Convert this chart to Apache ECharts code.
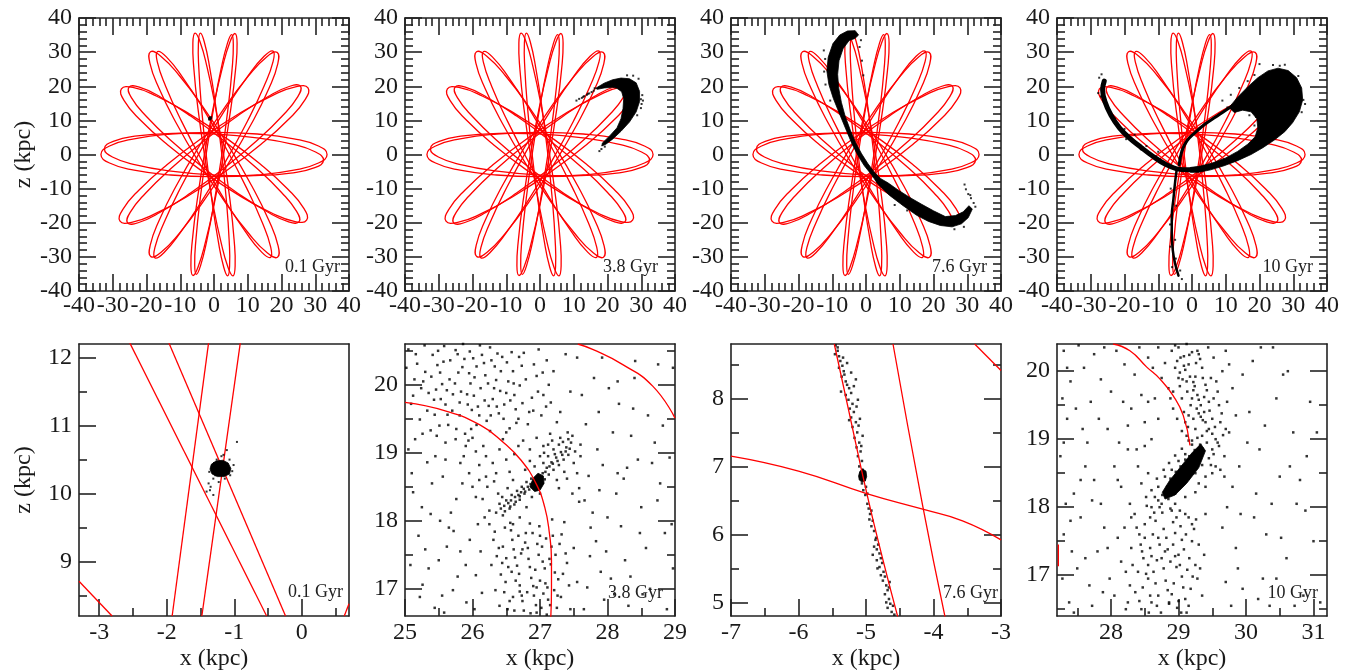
<!DOCTYPE html>
<html><head><meta charset="utf-8">
<script src="https://cdn.jsdelivr.net/npm/echarts@6/dist/echarts.min.js"></script>
<style>html,body{margin:0;padding:0;background:#fff}#c{width:1354px;height:672px}</style>
</head><body><div id="c"></div>
<script>
// ---------- tick labels ----------
const topMajorTicks = [-40,-30,-20,-10,0,10,20,30,40];
const topMinorTicks = [-38,-36,-34,-32,-28,-26,-24,-22,-18,-16,-14,-12,-8,-6,-4,-2,2,4,6,8,12,14,16,18,22,24,26,28,32,34,36,38];
const p5XMajor = [-3,-2,-1,0], p5XMinor = [-2.5,-1.5,-0.5,0.5];
const p5YMajor = [9,10,11,12], p5YMinor = [8.5,9.5,10.5,11.5];
const p6XMajor = [25,26,27,28,29], p6XMinor = [25.5,26.5,27.5,28.5];
const p6YMajor = [17,18,19,20], p6YMinor = [17.5,18.5,19.5,20.5];
const p7XMajor = [-7,-6,-5,-4,-3], p7XMinor = [-6.5,-5.5,-4.5,-3.5];
const p7YMajor = [5,6,7,8], p7YMinor = [5.5,6.5,7.5,8.5];
const p8XMajor = [28,29,30,31], p8XMinor = [27.5,28.5,29.5,30.5];
const p8YMajor = [17,18,19,20], p8YMinor = [16.5,17.5,18.5,19.5];
const ageLabels = ['0.1 Gyr','3.8 Gyr','7.6 Gyr','10 Gyr'];

// ---------- orbit (red rosette), read loop by loop (closed loops) ----------
const orbitLoopA = [[33.5,0],[30.95,2.49],[23.68,4.6],[12.83,6.01],[0,6.5],[-12.83,6.01],[-23.68,4.6],[-30.95,2.49],[-33.5,0],[-30.95,-2.49],[-23.68,-4.6],[-12.83,-6.01],[0,-6.5],[12.83,-6.01],[23.68,-4.6],[30.95,-2.49]];
const orbitLoopB = [[32.45,-1.7],[30.1,0.72],[23.16,3.04],[12.72,4.88],[0.31,5.99],[-12.14,6.18],[-22.72,5.44],[-29.86,3.86],[-32.45,1.7],[-30.1,-0.72],[-23.16,-3.04],[-12.72,-4.88],[-0.31,-5.99],[12.14,-6.18],[22.72,-5.44],[29.86,-3.86]];
const orbitLoopC = [[27.85,19.5],[24.41,19.9],[17.26,17.27],[7.49,12.02],[-3.44,4.92],[-13.85,-2.92],[-22.12,-10.31],[-27.05,-16.14],[-27.85,-19.5],[-24.41,-19.9],[-17.26,-17.27],[-7.49,-12.02],[3.44,-4.92],[13.85,2.92],[22.12,10.31],[27.05,16.14]];
const orbitLoopD = [[25.61,20.01],[22.48,20],[15.93,16.94],[6.96,11.3],[-3.08,3.94],[-12.66,-4.02],[-20.29,-11.36],[-24.84,-16.98],[-25.61,-20.01],[-22.48,-20],[-15.93,-16.94],[-6.96,-11.3],[3.08,-3.94],[12.66,4.02],[20.29,11.36],[24.84,16.98]];
const orbitLoopE = [[-27.44,19.22],[-26.67,15.88],[-21.83,10.11],[-13.69,2.81],[-3.44,-4.92],[7.33,-11.91],[16.97,-17.07],[24.03,-19.64],[27.44,-19.22],[26.67,-15.88],[21.83,-10.11],[13.69,-2.81],[3.44,4.92],[-7.33,11.91],[-16.97,17.07],[-24.03,19.64]];
const orbitLoopF = [[-25.22,19.7],[-24.48,16.69],[-20.01,11.14],[-12.51,3.91],[-3.08,-3.94],[6.81,-11.19],[15.65,-16.72],[22.12,-19.71],[25.22,-19.7],[24.48,-16.69],[20.01,-11.14],[12.51,-3.91],[3.08,3.94],[-6.81,11.19],[-15.65,16.72],[-22.12,19.71]];
const orbitLoopG = [[18.71,29.93],[15.67,28.67],[10.23,23.03],[3.25,13.91],[-4.24,2.65],[-11.09,-9.01],[-16.23,-19.29],[-18.91,-26.65],[-18.71,-29.93],[-15.67,-28.67],[-10.23,-23.03],[-3.25,-13.91],[4.24,-2.65],[11.09,9.01],[16.23,19.29],[18.91,26.65]];
const orbitLoopH = [[17.5,30.31],[14.84,28.78],[9.92,22.84],[3.5,13.46],[-3.46,2],[-9.9,-9.76],[-14.82,-20.02],[-17.5,-27.24],[-17.5,-30.31],[-14.84,-28.78],[-9.92,-22.84],[-3.5,-13.46],[3.46,-2],[9.9,9.76],[14.82,20.02],[17.5,27.24]];
const orbitLoopI = [[-18.81,30.1],[-19,26.8],[-16.3,19.41],[-11.12,9.08],[-4.24,-2.65],[3.28,-13.98],[10.3,-23.15],[15.76,-28.82],[18.81,-30.1],[19,-26.8],[16.3,-19.41],[11.12,-9.08],[4.24,2.65],[-3.28,13.98],[-10.3,23.15],[-15.76,28.82]];
const orbitLoopJ = [[-16.73,30.17],[-16.8,27.14],[-14.3,19.96],[-9.64,9.77],[-3.5,-1.94],[3.18,-13.35],[9.36,-22.7],[14.12,-28.62],[16.73,-30.17],[16.8,-27.14],[14.3,-19.96],[9.64,-9.77],[3.5,1.94],[-3.18,13.35],[-9.36,22.7],[-14.12,28.62]];
const orbitLoopK = [[6.25,35.45],[4.72,32.95],[2.47,25.4],[-0.16,14.03],[-2.76,0.49],[-4.94,-13.13],[-6.37,-24.72],[-6.84,-32.57],[-6.25,-35.45],[-4.72,-32.95],[-2.47,-25.4],[0.16,-14.03],[2.76,-0.49],[4.94,13.13],[6.37,24.72],[6.84,32.57]];
const orbitLoopL = [[5.25,35.11],[3.98,32.57],[2.1,25.06],[-0.09,13.76],[-2.28,0.34],[-4.11,-13.14],[-5.32,-24.58],[-5.72,-32.31],[-5.25,-35.11],[-3.98,-32.57],[-2.1,-25.06],[0.09,-13.76],[2.28,-0.34],[4.11,13.14],[5.32,24.58],[5.72,32.31]];
const orbitLoopM = [[-5.63,35.56],[-6.26,32.69],[-5.94,24.83],[-4.72,13.22],[-2.77,-0.44],[-0.4,-14.03],[2.02,-25.45],[4.14,-33.03],[5.63,-35.56],[6.26,-32.69],[5.94,-24.83],[4.72,-13.22],[2.77,0.44],[0.4,14.03],[-2.02,25.45],[-4.14,33.03]];
const orbitLoopN = [[-4.05,35.57],[-4.62,32.77],[-4.48,24.97],[-3.66,13.38],[-2.29,-0.26],[-0.56,-13.86],[1.25,-25.33],[2.87,-32.97],[4.05,-35.57],[4.62,-32.77],[4.48,-24.97],[3.66,-13.38],[2.29,0.26],[0.56,13.86],[-1.25,25.33],[-2.87,32.97]];
const orbitLoops = [orbitLoopA,orbitLoopB,orbitLoopC,orbitLoopD,orbitLoopE,orbitLoopF,orbitLoopG,orbitLoopH,orbitLoopI,orbitLoopJ,orbitLoopK,orbitLoopL,orbitLoopM,orbitLoopN];

// ---------- streams, top row ----------
const stream01Dots = [[-1.2,10.6],[-1.0,10.8],[-1.3,10.4]];
const stream38Band = [[16.5,19.4],[19,20.9],[21.5,21.9],[24,22.4],[26.5,22.2],[28.5,21],[29.5,18.5],[29.5,15.5],[28.5,12.5],[26.5,9.5],[24,6.8],[21.5,4.5],[19.5,3],[18.3,2.5],[18.5,3.4],[20.5,5.3],[22.8,7.8],[24,10.5],[24.6,13.5],[24.8,16.3],[24.2,18.4],[22.8,19.4],[21.5,19.7],[19,19.5],[17,19.1]];
const stream38Dots = [[10.8,15.8],[11.6,16.3],[12.4,16.6],[13.1,17.1],[13.9,17.5],[14.6,17.9],[15.3,18.3],[15.9,18.7],[12.8,16.9],[14.2,17.8],[16.2,19.4],[29.9,16.2],[30.1,14.8],[29.9,13.6],[30.3,17.4],[29.2,22.2],[27.6,23.1],[25.8,23.2],[19.2,2.3],[18.2,1.6],[17.6,1.0],[30.5,15.8],[28.8,11.5]];
const stream76Band = [[-3.2,36.3],[-5.5,36.2],[-7.8,35],[-9.8,32.5],[-11.2,28.5],[-11.6,24.5],[-11,20.5],[-9.7,16.5],[-8,12.3],[-6,7.5],[-4,2.8],[-2.2,-0.6],[-0.5,-3.3],[1.7,-6],[3.6,-8.8],[7,-12],[11,-15],[15,-17.8],[18.5,-19.6],[22,-20.8],[25.5,-21.2],[28.3,-20.3],[30.3,-18.5],[31.5,-16],[30.5,-15],[28.8,-16.8],[26.5,-17.9],[23.5,-18.2],[20,-16.5],[16.5,-14.6],[13,-12.6],[9.5,-10.4],[6.5,-8.3],[4.4,-7.1],[2.4,-5.1],[0.5,-2.6],[-1.3,0.2],[-3,3.3],[-4.6,7],[-6.2,11.3],[-7.3,15.3],[-8.1,19.5],[-8.4,23.5],[-8,27.5],[-6.8,31],[-5,33.4],[-3.3,34],[-2.2,35]];
const stream76Dots = [[29.2,-8.8],[29.6,-10.2],[30.3,-11.6],[31.1,-12.8],[31.9,-14.2],[32.4,-15.3],[30.9,-11.9],[-12.1,28],[-12.4,24.3],[-12,20.5],[-10.6,15.8],[-1.9,31.5],[-1.2,27.5],[-0.8,23.2],[8.5,-14.8],[12.2,-16.4],[26.2,-21.9],[29,-21.2],[-1.5,33.5],[-12.5,30.5]];
const stream10Blob = [[11,13.8],[13.5,16.8],[16.5,19.8],[19.5,22.5],[22.5,24.5],[25.5,25.3],[28.5,24.6],[31,22.5],[32.5,19.5],[32.8,16],[31.8,12.5],[29.8,9.3],[27.5,6.7],[24.5,4.3],[21,2],[17.5,0],[13.5,-1.8],[9.5,-3.3],[5.5,-4.5],[2,-5.2],[-0.5,-5.2],[-0.5,-3.8],[2.5,-3.4],[6,-2.5],[10,-1],[13.5,0.9],[16.5,3],[18.7,5.2],[19.5,7.8],[19.2,10.5],[17.5,12.5],[15,13],[12.5,12.3]];
const stream10UpperArm = [[-3.8,-3],[-3,1],[-1.5,4],[1,6.5],[4,9],[7,11],[10,13],[12.5,14.5]];
const stream10LeftArm = [[2,-4.4],[-1,-4.5],[-4.5,-4.2],[-8,-2.8],[-11.5,-0.6],[-15,2],[-18.5,4.8],[-21.5,7.8],[-24,11.5],[-25.8,15.5],[-26.5,19],[-26,21.5]];
const stream10Tail = [[-4.5,-4.2],[-5,-8],[-5.5,-13],[-6,-18],[-6,-23],[-5.7,-28],[-5,-32],[-4,-35.5]];
const stream10Dots = [[-27.5,22.5],[-26.8,23.5],[-27.8,18],[-24.5,13],[-22.8,10.5],[-20,7.5],[-17,5.8],[-13.5,2.5],[-10,0.8],[-25.3,14],[-27,17],[-19.5,4.5],[-6.3,-10],[-4.7,-15],[-6.5,-20.5],[-5,-25],[-6.4,-27],[-4.8,-30.5],[-3.5,-34],[-3,-36.5],[-5.9,-33],[20,26.5],[24,26.2],[26,26],[33,16],[33.5,14.8],[32.5,12.4],[14,19.5],[16.5,21.5],[18.5,23.3],[27.5,26.3],[31.5,23],[10.5,13.8],[9,15.8],[11.5,17.5],[17,11.5],[19,11],[20.5,12.7],[24.5,18.5],[22.5,12.8],[18.5,8.5]];

// ---------- zoomed panels, bottom row ----------
const zoom01Lines = [
  [[-2.55,12.22],[-0.52,8.2]],
  [[-1.97,12.22],[-0.24,8.2]],
  [[-1.38,12.22],[-1.92,8.2]],
  [[-0.91,12.22],[-1.48,8.2]],
  [[-3.3,8.71],[-2.81,8.2]],
  [[0.63,8.2],[0.7,8.38]]
];
const zoom01Core = [[-1.36,10.36],[-1.34,10.43],[-1.27,10.48],[-1.17,10.49],[-1.09,10.45],[-1.05,10.37],[-1.07,10.29],[-1.15,10.25],[-1.25,10.25],[-1.33,10.29]];
const zoom01Dots = [[-0.96,10.76],[-1.11,10.64],[-1.16,10.57],[-1.31,10.22],[-1.38,10.15],[-1.36,10.05],[-1.31,9.98],[-1.41,10.03],[-1.06,10.27],[-1.01,10.42],[-1.28,10.27],[-1.23,10.17],[-1.35,10.1],[-1.19,10.55],[-1.07,10.5],[-1.3,10.45],[-1.14,10.22],[-1.03,10.33],[-1.37,10.32],[-1.26,10.5]];

const zoom38Lines = [
  [[25,19.74],[25.62,19.61],[26.11,19.41],[26.45,19.16],[26.72,18.89],[26.94,18.55],[27.07,18.2],[27.14,17.81],[27.17,17.42],[27.17,17.0],[27.16,16.58]],
  [[27.56,20.6],[27.78,20.52],[28.22,20.3],[28.67,19.98],[29,19.51]]
];
const zoom38Core = [[26.85,18.5],[26.9,18.63],[26.97,18.7],[27.05,18.66],[27.06,18.55],[27.0,18.45],[26.92,18.43]];
const zoom38Dots = [[25.05,20.52],[25.18,20.31],[25.27,20.05],[25.12,19.84],[25.33,19.62],[25.41,20.44],[25.52,20.18],[25.46,19.93],[25.6,19.71],[25.58,20.57],[25.67,20.36],[25.74,20.02],[25.81,19.55],[25.85,20.26],[25.92,19.86],[25.96,20.49],[26.03,20.11],[26.08,19.68],[26.12,19.95],[26.17,20.32],[26.21,19.47],[26.26,20.55],[26.3,19.79],[26.35,20.07],[26.39,19.58],[26.44,20.41],[26.5,19.88],[26.55,19.36],[26.6,20.2],[26.64,19.64],[26.7,19.99],[26.76,20.47],[26.82,19.42],[26.88,19.81],[26.95,20.13],[27.02,19.55],[27.1,20.36],[27.16,19.74],[25.22,19.49],[25.38,19.33],[25.64,19.41],[25.89,19.28],[26.01,20.39],[25.78,20.45],[25.55,20.01],[25.99,19.63],[26.23,20.02],[26.47,19.71],[26.68,19.5],[26.33,20.27],[25.71,19.86],[26.11,20.58],[25.43,19.78],[25.95,20.17],[26.58,20.48],[26.9,19.62],[26.41,19.91],[25.3,20.19],[26.18,19.77],[25.86,20.6],[26.62,19.85],[25.48,20.29],[26.06,19.41],[26.73,20.28],[25.63,19.56],[26.27,19.55],[26.53,20.05],[25.14,20.08],[25.81,19.74],[26.37,20.46],
[26.35,18.12],[26.4,18.25],[26.45,18.08],[26.5,18.3],[26.55,18.18],[26.58,18.38],[26.62,18.24],[26.66,18.44],[26.7,18.31],[26.73,18.5],[26.77,18.4],[26.8,18.57],[26.84,18.46],[26.87,18.62],[26.9,18.52],[26.93,18.58],[26.96,18.49],[26.98,18.64],[27.01,18.56],[27.04,18.7],[27.07,18.61],[27.1,18.78],[27.13,18.68],[27.17,18.86],[27.2,18.75],[27.24,18.93],[27.28,18.82],[27.31,19.01],[27.35,18.9],[27.39,19.08],[27.42,18.97],[27.46,19.15],[27.2,19.05],[27.12,18.95],[27.3,19.22],[27.41,19.3],[27.5,18.85],[27.05,19.1],[27.25,18.6],[27.36,18.72],[26.92,18.8],[27.0,18.95],[26.85,19.05],[27.15,19.28],[27.52,19.02],[26.6,18.6],[26.52,18.48],[26.44,18.35],[26.7,18.05],[26.6,17.95],[26.48,17.9],[26.38,18.4],[26.88,18.35],[27.0,18.4],[26.8,18.2],
[26.25,17.95],[26.31,17.72],[26.36,17.48],[26.42,17.21],[26.47,16.95],[26.52,16.7],[26.57,17.86],[26.61,17.58],[26.66,17.34],[26.7,17.05],[26.74,16.82],[26.78,17.68],[26.83,17.44],[26.87,17.16],[26.91,16.9],[26.95,16.65],[26.99,17.92],[27.03,17.62],[27.07,17.3],[27.11,17.02],[27.15,16.76],[27.19,17.78],[27.23,17.5],[27.27,17.14],[27.31,16.88],[27.36,17.98],[27.4,17.38],[27.45,16.7],[27.5,17.6],[27.55,17.1],[26.28,17.35],[26.34,16.98],[26.45,17.62],[26.53,17.32],[26.6,16.88],[26.68,17.78],[26.72,17.52],[26.81,16.95],[26.89,17.82],[26.93,17.28],[27.0,17.12],[27.05,16.93],[27.09,17.74],[27.14,17.44],[27.21,16.98],[27.29,17.66],[27.34,17.22],[26.64,17.12],[26.76,16.68],[26.98,17.5],[26.56,17.97],[26.85,17.96],[27.18,18.02],[26.4,16.75],[26.95,17.02],[27.1,16.62],[26.7,16.96],[26.5,17.45],[26.82,17.6],[27.25,16.72],
[25.05,19.05],[25.12,18.42],[25.2,17.78],[25.26,17.06],[25.33,18.86],[25.38,18.1],[25.44,16.72],[25.5,17.42],[25.56,18.65],[25.6,19.15],[25.65,17.9],[25.71,16.98],[25.76,18.32],[25.82,17.55],[25.87,18.95],[25.91,16.8],[25.96,17.72],[26.0,18.5],[26.05,17.2],[26.1,18.82],[26.14,16.94],[26.18,18.05],[25.22,16.88],[25.47,19.25],[25.68,18.12],[25.94,19.18],[26.08,17.95],[25.3,17.58],[25.58,16.65],[25.85,18.55],[26.16,19.1],[25.08,17.35],[25.4,18.55],[25.78,17.18],[26.03,16.7],[25.15,19.2],[25.52,18.0],[25.98,19.35],[26.2,18.65],[25.62,17.62],
[27.55,20.4],[27.62,19.85],[27.68,19.42],[27.72,18.66],[27.78,18.12],[27.83,17.7],[27.9,17.25],[27.95,16.84],[28.02,19.95],[28.08,19.3],[28.13,18.4],[28.2,17.92],[28.26,17.42],[28.31,16.75],[28.38,19.65],[28.45,18.9],[28.5,18.2],[28.57,17.6],[28.63,17.0],[28.7,19.15],[28.78,18.55],[28.85,17.82],[28.92,18.93],[28.97,17.3],[27.6,19.12],[27.66,18.3],[27.74,17.48],[27.8,20.1],[27.87,19.6],[27.93,18.82],[28.0,18.05],[28.1,16.92],[28.17,19.72],[28.24,18.62],[28.34,17.18],[28.41,20.35],[28.6,19.55],[28.74,18.3],[28.88,16.7],[27.58,18.48],[27.7,17.02],[27.98,17.55],[28.29,18.78],[28.52,16.92],[27.85,19.05],
[26.98,20.52],[27.2,20.2],[27.3,19.6],[27.45,19.9],[27.05,19.85],[27.38,20.45],[27.25,19.45],[25.6,18.9],[25.9,19.1],[26.2,18.95],[26.35,18.7],[26.45,19.2],[26.1,18.6],[25.75,19.2]];
const zoom38DotsMore = [[25.02,20.25],[25.09,19.72],[25.16,20.45],[25.24,19.95],[25.29,20.58],[25.35,19.88],[25.39,20.12],[25.44,19.56],[25.49,20.5],[25.53,19.79],[25.57,20.34],[25.62,19.92],[25.66,20.08],[25.7,19.62],[25.75,20.51],[25.79,20.18],[25.83,19.9],[25.88,20.38],[25.93,19.71],[25.97,20.02],[26.02,19.84],[26.06,20.27],[26.1,19.55],[26.14,20.44],[26.19,20.14],[26.24,19.69],[26.28,20.36],[26.32,19.95],[26.36,19.68],[26.42,20.2],[26.46,19.5],[26.51,20.33],[26.56,19.77],[26.61,20.02],[26.65,19.44],[26.69,20.41],[26.74,19.73],[26.79,20.08],[26.84,19.6],[26.91,20.3],[26.97,19.9],[27.04,20.18],[27.09,19.68],[27.13,20.0],[25.26,19.28],[25.51,19.4],[25.76,19.35],[26.0,19.22],[26.26,19.32],[26.5,19.3],
[26.42,18.18],[26.47,18.22],[26.53,18.26],[26.57,18.3],[26.63,18.35],[26.68,18.38],[26.72,18.42],[26.76,18.47],[26.82,18.5],[26.86,18.54],[26.48,18.14],[26.56,18.21],[26.64,18.28],[26.7,18.36],[26.78,18.43],[27.08,18.72],[27.14,18.8],[27.19,18.84],[27.26,18.88],[27.33,18.97],[27.38,19.02],[27.44,19.06],[27.22,18.98],[27.28,19.12],[27.34,19.16],[27.12,19.12],[27.18,19.18],[27.42,19.2],[27.48,19.25],[27.06,19.0],
[26.33,17.84],[26.39,17.6],[26.44,17.38],[26.49,17.1],[26.55,16.82],[26.59,17.72],[26.63,17.46],[26.69,17.22],[26.73,16.9],[26.79,17.82],[26.85,17.32],[26.9,17.04],[26.94,16.76],[27.0,17.78],[27.04,17.4],[27.08,17.08],[27.12,16.84],[27.17,17.62],[27.22,17.24],[27.26,16.9],[27.32,17.8],[27.38,17.52],[27.43,17.05],[26.62,16.68],[26.86,16.64],[27.02,16.72],[26.58,17.25],[26.96,17.66],[27.16,17.36],[26.74,17.58],
[25.82,18.85],[26.05,19.02],[26.22,18.5],[26.3,18.85],[26.4,19.05],[26.55,18.72],[26.62,18.98],[26.75,19.18],[26.78,18.75],[26.95,19.22],[27.05,18.85],[27.28,18.48],[27.4,18.62],[27.55,18.7],[26.15,18.32],[26.32,18.58],[26.5,18.9],[26.68,19.1],[26.85,18.88],[27.58,18.28],[26.25,18.15],[26.05,18.35],[25.95,18.7],[27.48,18.4],[27.6,18.95],
[25.1,18.7],[25.35,17.3],[25.55,16.9],[25.72,17.85],[25.9,17.35],[26.12,17.55],[25.25,18.2],[25.45,18.95],[27.65,16.7],[27.75,17.9],[27.88,18.45],[28.05,17.15],[28.15,18.7],[28.35,19.25],[28.48,17.82],[28.66,18.85],[28.82,19.4],[28.95,17.95],[28.4,20.1],[28.75,20.3],[27.92,20.4],[28.15,20.05],[28.97,20.25]];

const zoom76Lines = [
  [[-5.47,8.8],[-5.26,7.84],[-4.99,6.61],[-4.75,5.63],[-4.53,4.79]],
  [[-4.6,8.8],[-4.16,6.42],[-3.83,4.79]],
  [[-7,7.15],[-6,6.93],[-4.99,6.6],[-4.16,6.37],[-3.57,6.2],[-3,5.92]],
  [[-3.39,8.8],[-3,8.41]]
];
const zoom76Core = [[-5.11,6.86],[-5.09,6.93],[-5.05,6.96],[-5.0,6.93],[-4.99,6.85],[-5.01,6.79],[-5.06,6.77],[-5.1,6.8]];
const zoom76Dots = [[-5.45,8.78],[-5.42,8.7],[-5.4,8.62],[-5.38,8.55],[-5.35,8.48],[-5.33,8.4],[-5.36,8.32],[-5.3,8.25],[-5.28,8.2],[-5.25,8.15],[-5.22,8.08],[-5.3,8.05],[-5.26,7.98],[-5.2,7.92],[-5.24,7.85],[-5.18,7.8],[-5.22,7.72],[-5.15,7.65],[-5.2,7.58],[-5.13,7.5],[-5.17,7.42],[-5.1,7.35],[-5.14,7.28],[-5.08,7.22],[-5.12,7.15],[-5.06,7.08],[-5.1,7.0],[-5.42,8.75],[-5.4,8.45],[-5.32,8.35],[-5.18,8.18],[-5.15,8.28],[-5.12,7.98],[-5.09,7.7],[-5.14,7.88],[-5.11,7.6],[-5.05,7.45],[-5.07,7.3],[-5.34,8.6],[-5.28,8.52],[-5.22,8.38],[-5.37,8.1],[-5.46,8.65],[-5.25,7.68],
[-5.05,6.95],[-5.08,6.9],[-5.02,6.8],[-5.06,6.75],[-5.0,6.7],[-5.04,6.65],[-5.01,6.58],[-4.98,6.6],
[-4.98,6.45],[-4.96,6.38],[-4.94,6.3],[-4.95,6.22],[-4.92,6.12],[-4.88,6.05],[-4.86,5.92],[-4.82,5.85],[-4.84,5.78],[-4.8,5.72],[-4.78,5.65],[-4.76,5.58],[-4.8,5.52],[-4.74,5.45],[-4.72,5.38],[-4.75,5.32],[-4.7,5.25],[-4.68,5.18],[-4.72,5.12],[-4.66,5.05],[-4.64,4.98],[-4.68,4.92],[-4.62,4.86],[-4.58,4.82],[-4.85,5.95],[-4.88,5.82],[-4.9,5.7],[-4.78,5.4],[-4.65,5.3],[-4.7,5.0],[-4.6,4.95],[-4.84,5.62],[-4.92,6.35],[-4.9,6.2],[-4.83,5.5],[-4.66,5.22]];

const zoom10Lines = [
  [[28.03,20.4],[28.28,20.3],[28.53,20.06],[28.72,19.89],[28.92,19.64],[29.07,19.35],[29.17,18.91]],
  [[27.22,17.45],[27.22,17.13]]
];
const zoom10Core = [[28.8,18.12],[28.95,18.18],[29.12,18.35],[29.3,18.58],[29.4,18.83],[29.33,18.93],[29.2,18.8],[29.02,18.58],[28.86,18.38],[28.76,18.22]];
const zoom10Dots = [[29.0,20.35],[29.08,20.22],[29.15,20.1],[29.02,19.98],[29.12,19.85],[29.22,19.72],[29.05,19.6],[29.18,19.5],[29.3,19.38],[29.1,19.25],[29.25,19.15],[29.35,19.05],[29.2,18.98],[28.9,20.3],[28.95,20.05],[28.85,19.75],[28.92,19.45],[29.28,20.3],[29.35,20.05],[29.4,19.8],[29.45,19.55],[29.5,19.3],[29.42,19.12],[29.55,19.0],[29.32,20.18],[29.25,19.92],[29.15,19.35],[29.38,19.62],[29.48,19.9],[29.58,19.7],[28.8,20.12],[28.75,19.9],[29.05,19.12],[29.62,19.25],[29.12,20.4],[29.2,20.28],[29.02,19.78],[28.98,19.3],[29.3,19.58],[29.52,20.2],[29.44,20.35],[28.88,19.6],[29.6,19.5],[29.36,19.28],[29.22,19.84],[29.08,20.08],[28.7,20.35],[28.65,19.6],[29.65,20.0],[29.7,19.15],
[28.75,18.05],[28.82,18.25],[28.9,18.35],[28.98,18.45],[29.05,18.52],[29.12,18.62],[29.2,18.7],[29.28,18.78],[29.36,18.86],[29.42,18.95],[28.85,18.12],[28.95,18.2],[29.05,18.32],[29.15,18.42],[29.25,18.5],[29.35,18.62],[29.45,18.72],[29.5,18.85],[28.7,18.3],[28.8,18.45],[28.9,18.55],[29.0,18.68],[29.1,18.78],[29.2,18.92],[29.55,18.6],[29.6,18.9],[28.65,18.15],[28.6,18.0],[29.3,18.35],[29.4,18.45],
[28.35,17.9],[28.42,17.6],[28.48,17.25],[28.55,16.95],[28.6,16.6],[28.66,17.8],[28.72,17.45],[28.78,17.1],[28.84,16.78],[28.9,17.95],[28.95,17.62],[29.0,17.3],[29.05,16.98],[29.1,16.65],[29.15,17.85],[29.2,17.5],[29.25,17.15],[28.4,17.05],[28.45,16.5],[28.5,17.75],[28.58,17.4],[28.63,17.05],[28.7,16.7],[28.76,17.92],[28.82,17.55],[28.88,17.2],[28.93,16.88],[28.98,16.52],[29.03,17.72],[29.08,17.38],[29.13,17.08],[29.18,16.8],[29.23,17.68],[29.28,16.95],[28.3,17.4],[28.36,16.75],[28.53,18.02],[28.68,17.22],[28.86,16.58],[29.02,17.95],[28.62,17.6],[28.8,17.35],[28.97,17.12],[29.12,16.45],[28.47,16.82],[28.74,16.45],[28.92,17.78],[29.3,17.45],[29.35,16.7],[28.55,17.15],[28.25,16.6],[28.2,17.7],[28.15,17.2],[29.4,17.9],[28.44,17.45],
[27.3,20.3],[27.4,19.85],[27.35,19.3],[27.25,18.75],[27.45,18.2],[27.3,17.6],[27.5,17.1],[27.38,16.6],[27.6,20.05],[27.7,19.55],[27.65,18.95],[27.75,18.4],[27.55,17.85],[27.8,17.35],[27.68,16.85],[27.9,20.35],[28.0,19.7],[27.95,19.15],[28.05,18.6],[27.85,18.05],[28.1,17.55],[27.98,16.95],[28.2,20.1],[28.3,19.45],[28.25,18.85],[28.15,18.3],[28.4,18.6],[28.35,19.95],[28.5,19.25],[28.45,18.35],[28.55,20.2],[28.6,19.0],[27.28,19.6],[27.52,20.38],[27.62,18.6],[27.85,19.88],[28.12,18.95],[28.42,20.35],[27.42,17.35],[27.72,16.55],[28.05,16.7],[28.28,18.05],[27.33,18.05],[27.58,19.15],[28.22,17.05],[27.9,17.7],
[29.7,20.3],[29.8,19.75],[29.75,19.1],[29.9,18.6],[29.72,18.0],[29.85,17.4],[29.95,16.8],[30.1,20.15],[30.05,19.4],[30.2,18.85],[30.15,18.2],[30.3,17.6],[30.25,16.95],[30.45,19.6],[30.5,18.45],[30.6,17.25],[30.7,19.1],[30.75,18.05],[30.85,16.7],[30.9,18.75],[31.0,17.5],[30.4,20.35],[29.65,17.7],[29.78,16.55],[30.55,19.95],[30.95,19.55],[30.35,16.55],[29.95,19.95],[30.65,18.6],[29.68,18.45]];
const zoom10DotsMore = [[28.95,20.38],[29.03,20.2],[29.1,20.02],[29.17,19.92],[29.24,19.78],[29.28,19.65],[29.33,19.5],[29.38,19.4],[29.4,19.25],[29.45,19.15],[29.5,19.08],[29.26,20.12],[29.16,20.24],[29.06,19.88],[29.13,19.7],[29.2,19.6],[29.27,19.45],[29.33,19.33],[29.22,19.3],[29.14,19.18],[29.28,19.02],[29.46,19.42],[29.52,19.6],[29.42,19.72],[29.36,19.9],[29.3,20.25],[29.56,19.85],[29.64,19.38],[29.54,19.18],[29.66,19.06],[28.98,20.15],[29.0,19.9],[29.08,19.4],[28.92,19.7],[29.12,19.05],[29.58,18.95],[29.68,18.75],[29.62,18.55],[29.5,18.5],[29.72,19.55],
[28.7,18.1],[28.76,18.18],[28.83,18.3],[28.88,18.42],[28.96,18.52],[29.03,18.6],[29.1,18.7],[29.16,18.75],[29.24,18.84],[29.32,18.92],[28.6,18.25],[28.68,18.42],[28.78,18.55],[28.86,18.65],[28.95,18.76],[29.05,18.86],[29.15,18.98],[29.48,18.62],[29.52,18.78],[29.4,18.3],[29.25,18.22],[29.1,18.15],[28.95,18.05],[28.52,18.15],[28.55,18.5],
[28.38,17.7],[28.46,17.35],[28.52,17.02],[28.58,16.7],[28.64,17.92],[28.7,17.55],[28.75,17.25],[28.81,16.92],[28.86,16.6],[28.92,17.45],[28.97,17.85],[29.02,17.15],[29.07,16.82],[29.11,17.6],[29.16,17.25],[29.21,16.98],[29.26,17.82],[29.32,17.1],[28.42,16.62],[28.5,17.55],[28.6,17.28],[28.66,16.88],[28.72,18.0],[28.78,17.68],[28.84,17.38],[28.9,16.72],[28.95,17.28],[29.0,16.62],[29.05,17.52],[29.1,17.9],[29.15,16.55],[29.2,17.75],[29.38,17.3],[28.32,17.15],[28.28,16.85],[28.58,17.85],[28.88,17.98],[29.04,16.45],[28.68,16.55],[28.56,16.45],
[27.35,20.05],[27.48,19.45],[27.3,18.95],[27.55,18.4],[27.4,17.8],[27.62,17.25],[27.28,16.95],[27.75,20.25],[27.82,19.3],[27.72,18.1],[27.95,17.4],[27.88,16.75],[28.08,20.3],[28.18,19.55],[28.1,18.4],[28.3,17.85],[28.22,16.5],[28.45,19.65],[28.62,20.05],[28.7,19.3],[28.38,18.85],[28.5,18.9],[28.55,19.55],[28.25,19.2],[27.45,16.45],
[29.75,20.1],[29.85,19.35],[29.8,18.3],[29.92,17.9],[29.88,17.1],[30.02,18.95],[30.12,17.85],[30.18,16.65],[30.28,19.2],[30.38,18.05],[30.52,17.55],[30.62,20.0],[30.8,18.4],[30.88,17.95],[31.05,19.1],[30.22,20.35],[29.7,16.9],[30.45,16.95],[31.1,16.6],[30.72,16.55]];

// ---------- build ----------
const FONT = 'Liberation Serif';
const AXC = '#222';
const RED = '#ff0000';
const panelLefts = [79,405,731,1057];
const rowTops = [18,344];
const grids = [], xAxes = [], yAxes = [], series = [], graphics = [];

const panelSpecs = [
  {x:[-40,40],y:[-40,40],xMaj:topMajorTicks,xMin:topMinorTicks,yMaj:topMajorTicks,yMin:topMinorTicks,top:true,right:true,xName:'',yName:'z (kpc)'},
  {x:[-40,40],y:[-40,40],xMaj:topMajorTicks,xMin:topMinorTicks,yMaj:topMajorTicks,yMin:topMinorTicks,top:true,right:true,xName:'',yName:''},
  {x:[-40,40],y:[-40,40],xMaj:topMajorTicks,xMin:topMinorTicks,yMaj:topMajorTicks,yMin:topMinorTicks,top:true,right:true,xName:'',yName:''},
  {x:[-40,40],y:[-40,40],xMaj:topMajorTicks,xMin:topMinorTicks,yMaj:topMajorTicks,yMin:topMinorTicks,top:true,right:true,xName:'',yName:''},
  {x:[-3.3,0.7],y:[8.2,12.2],xMaj:p5XMajor,xMin:p5XMinor,yMaj:p5YMajor,yMin:p5YMinor,top:false,right:false,xName:'x (kpc)',yName:'z (kpc)'},
  {x:[25,29],y:[16.6,20.6],xMaj:p6XMajor,xMin:p6XMinor,yMaj:p6YMajor,yMin:p6YMinor,top:false,right:true,xName:'x (kpc)',yName:''},
  {x:[-7,-3],y:[4.8,8.8],xMaj:p7XMajor,xMin:p7XMinor,yMaj:p7YMajor,yMin:p7YMinor,top:false,right:true,xName:'x (kpc)',yName:''},
  {x:[27.2,31.2],y:[16.4,20.4],xMaj:p8XMajor,xMin:p8XMinor,yMaj:p8YMajor,yMin:p8YMinor,top:false,right:true,xName:'x (kpc)',yName:''}
];

const lineStyle = {color:AXC, width:1.6};
const labStyle = {fontFamily:FONT, fontSize:24, color:'#1a1a1a'};
function axis(g, range, pos, opts) {
  return Object.assign({gridIndex:g, type:'value', min:range[0], max:range[1], position:pos,
    splitLine:{show:false}, minorTick:{show:false}, minorSplitLine:{show:false}}, opts);
}
panelSpecs.forEach((s, g) => {
  const row = g < 4 ? 0 : 1;
  grids.push({left:panelLefts[g % 4], top:rowTops[row], width:270, height:273});
  xAxes.push(axis(g, s.x, 'bottom', {
    axisLine:{show:true,onZero:false,lineStyle},
    axisTick:{show:true,inside:true,length:17,customValues:s.xMaj,lineStyle},
    axisLabel:{show:true,customValues:s.xMaj,margin:row===0?3:5,...labStyle},
    name:s.xName,nameLocation:'middle',nameGap:31,nameTextStyle:{...labStyle}
  }));
  xAxes.push(axis(g, s.x, 'bottom', {axisLine:{show:false,onZero:false},
    axisTick:{show:true,inside:true,length:8,customValues:s.xMin,lineStyle},axisLabel:{show:false}}));
  xAxes.push(axis(g, s.x, 'top', {axisLine:{show:true,onZero:false,lineStyle},
    axisTick:{show:s.top,inside:true,length:17,customValues:s.xMaj,lineStyle},axisLabel:{show:false}}));
  xAxes.push(axis(g, s.x, 'top', {axisLine:{show:false,onZero:false},
    axisTick:{show:s.top,inside:true,length:8,customValues:s.xMin,lineStyle},axisLabel:{show:false}}));
  yAxes.push(axis(g, s.y, 'left', {
    axisLine:{show:true,onZero:false,lineStyle},
    axisTick:{show:true,inside:true,length:17,customValues:s.yMaj,lineStyle},
    axisLabel:{show:true,customValues:s.yMaj,margin:7,...labStyle},
    name:s.yName,nameLocation:'middle',nameGap:43,nameRotate:90,nameTextStyle:{...labStyle}
  }));
  yAxes.push(axis(g, s.y, 'left', {axisLine:{show:false,onZero:false},
    axisTick:{show:true,inside:true,length:8,customValues:s.yMin,lineStyle},axisLabel:{show:false}}));
  yAxes.push(axis(g, s.y, 'right', {axisLine:{show:true,onZero:false,lineStyle},
    axisTick:{show:s.right,inside:true,length:17,customValues:s.yMaj,lineStyle},axisLabel:{show:false}}));
  yAxes.push(axis(g, s.y, 'right', {axisLine:{show:false,onZero:false},
    axisTick:{show:s.right,inside:true,length:8,customValues:s.yMin,lineStyle},axisLabel:{show:false}}));
});

function redLoop(g, pts) {
  series.push({type:'custom', xAxisIndex:4*g, yAxisIndex:4*g, data:[pts[0]], clip:true, silent:true, z:2,
    renderItem:(params, api) => ({type:'polygon', shape:{points:pts.map(p => api.coord(p)), smooth:0.5},
      style:{fill:'none', stroke:RED, lineWidth:1.3}})});
}
function redLine(g, pts, smooth) {
  series.push({type:'line', xAxisIndex:4*g, yAxisIndex:4*g, data:pts, smooth:smooth?0.5:false,
    showSymbol:false, symbol:'none', clip:true, silent:true,
    lineStyle:{color:RED, width:1.3}, z:2});
}
function blackLine(g, pts, w) {
  series.push({type:'line', xAxisIndex:4*g, yAxisIndex:4*g, data:pts, smooth:0.4,
    showSymbol:false, symbol:'none', clip:true, silent:true,
    lineStyle:{color:'#000', width:w, cap:'round', join:'round'}, z:3});
}
function dots(g, pts, size, z) {
  series.push({type:'scatter', xAxisIndex:4*g, yAxisIndex:4*g, data:pts, symbol:'rect',
    symbolSize:size, itemStyle:{color:'#000'}, silent:true, clip:true, z:z});
}
function poly(g, pts, z) {
  series.push({type:'custom', xAxisIndex:4*g, yAxisIndex:4*g, data:[pts[0]], clip:true, silent:true, z:z,
    renderItem:(params, api) => ({type:'polygon', shape:{points:pts.map(p => api.coord(p))},
      style:{fill:'#000', stroke:'#000', lineWidth:0.8}})});
}

// top row: red orbit then black stream on top
for (let g = 0; g < 4; g++) orbitLoops.forEach(loop => redLoop(g, loop));
dots(0, stream01Dots, 3, 4);
poly(1, stream38Band, 4); dots(1, stream38Dots, 2, 4);
poly(2, stream76Band, 4); dots(2, stream76Dots, 2, 4);
poly(3, stream10Blob, 4);
blackLine(3, stream10UpperArm, 3);
blackLine(3, stream10LeftArm, 5);
blackLine(3, stream10Tail, 2.5);
dots(3, stream10Dots, 2, 4);

// bottom row: particles then red orbit on top
poly(4, zoom01Core, 3); dots(4, zoom01Dots, 2, 3); zoom01Lines.forEach(l => redLine(4, l, false));
dots(5, zoom38Dots, 2.5, 1); dots(5, zoom38DotsMore, 2.5, 1); poly(5, zoom38Core, 1); zoom38Lines.forEach(l => redLine(5, l, true));
dots(6, zoom76Dots, 2.5, 1); poly(6, zoom76Core, 1); zoom76Lines.forEach(l => redLine(6, l, true));
dots(7, zoom10Dots, 2.5, 1); dots(7, zoom10DotsMore, 2.5, 1); poly(7, zoom10Core, 1); zoom10Lines.forEach(l => redLine(7, l, true));

// age annotations (right edge x, centre y)
const agePos = [[340,267],[658,267],[987,267],[1313,267],[343,592],[663,593],[998,593],[1318,593]];
agePos.forEach((p, i) => {
  graphics.push({type:'text', x:p[0], y:p[1], z:10,
    style:{text:ageLabels[i % 4], fontFamily:FONT, fontSize:18, fill:'#222',
      align:'right', verticalAlign:'middle', textAlign:'right', textVerticalAlign:'middle'}});
});

const chart = echarts.init(document.getElementById('c'), null, {renderer:'canvas'});
chart.setOption({animation:false, backgroundColor:'#fff', grid:grids, xAxis:xAxes, yAxis:yAxes,
  series:series, graphic:graphics});
</script></body></html>
